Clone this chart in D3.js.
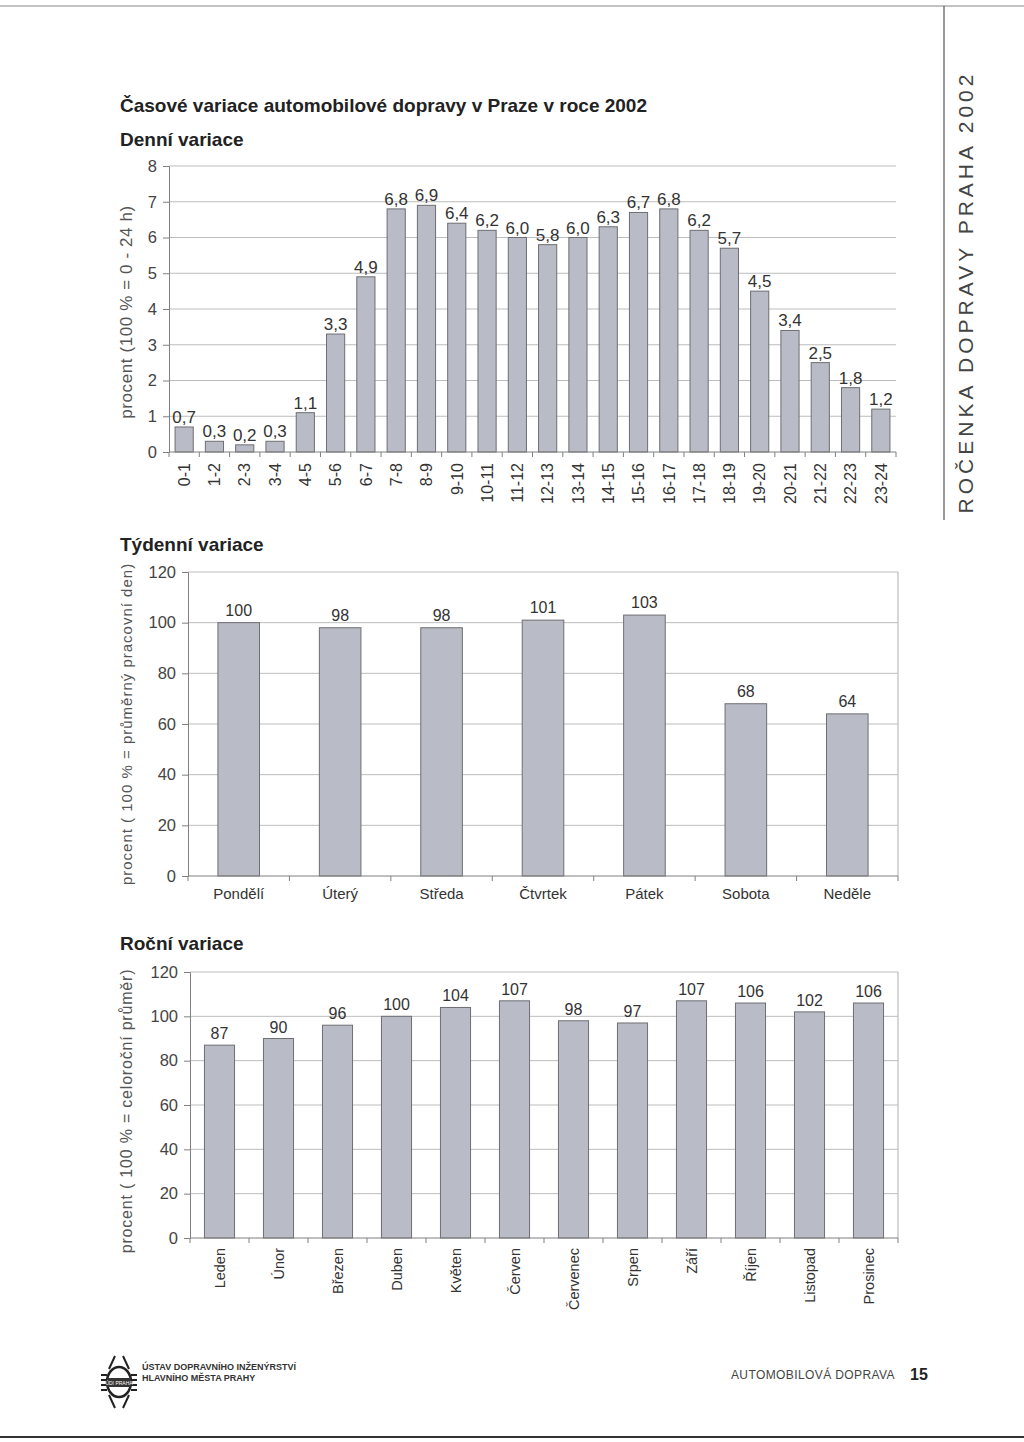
<!DOCTYPE html>
<html><head><meta charset="utf-8">
<script src="https://cdn.jsdelivr.net/npm/d3@7"></script>
<style>
body{margin:0;background:#fff;}
svg text{font-family:"Liberation Sans",Arial,sans-serif;}
</style></head>
<body>
<script>
// ---- data ----
const hourCategories = ["0-1","1-2","2-3","3-4","4-5","5-6","6-7","7-8","8-9","9-10","10-11","11-12","12-13","13-14","14-15","15-16","16-17","17-18","18-19","19-20","20-21","21-22","22-23","23-24"];
const hourValues = [0.7,0.3,0.2,0.3,1.1,3.3,4.9,6.8,6.9,6.4,6.2,6.0,5.8,6.0,6.3,6.7,6.8,6.2,5.7,4.5,3.4,2.5,1.8,1.2];
const hourTicks = [0,1,2,3,4,5,6,7,8];

const dayCategories = ["Pondělí","Úterý","Středa","Čtvrtek","Pátek","Sobota","Neděle"];
const dayValues = [100,98,98,101,103,68,64];
const dayTicks = [0,20,40,60,80,100,120];

const monthCategories = ["Leden","Únor","Březen","Duben","Květen","Červen","Červenec","Srpen","Září","Říjen","Listopad","Prosinec"];
const monthValues = [87,90,96,100,104,107,98,97,107,106,102,106];
const monthTicks = [0,20,40,60,80,100,120];

const W = 1024, H = 1442;
const svg = d3.select("body").append("svg").attr("width", W).attr("height", H);

const BAR_FILL = "#b9bcc7", BAR_STROKE = "#6e6e72", GRID = "#bdbdbd", AXIS = "#808080", TXT = "#333";
const NARROW = "'Liberation Sans Narrow','Liberation Sans',Arial,sans-serif";

// page frame
svg.append("line").attr("x1",0).attr("x2",1024).attr("y1",6).attr("y2",6).attr("stroke","#888").attr("stroke-width",1.2);
svg.append("line").attr("x1",944).attr("x2",944).attr("y1",6).attr("y2",520).attr("stroke","#555").attr("stroke-width",1.2);
svg.append("line").attr("x1",0).attr("x2",1024).attr("y1",1437).attr("y2",1437).attr("stroke","#333").attr("stroke-width",2);
svg.append("text").attr("transform","translate(973,292) rotate(-90)").attr("text-anchor","middle")
  .attr("font-size",21).attr("fill","#444").attr("letter-spacing",4).text("ROČENKA DOPRAVY PRAHA 2002");

// titles
svg.append("text").attr("x",120).attr("y",112).attr("font-size",19).attr("font-weight","bold").attr("fill","#222").text("Časové variace automobilové dopravy v Praze v roce 2002");
svg.append("text").attr("x",120).attr("y",146).attr("font-size",19).attr("font-weight","bold").attr("fill","#222").text("Denní variace");
svg.append("text").attr("x",120).attr("y",551).attr("font-size",19).attr("font-weight","bold").attr("fill","#222").text("Týdenní variace");
svg.append("text").attr("x",120).attr("y",950).attr("font-size",19).attr("font-weight","bold").attr("fill","#222").text("Roční variace");

function barChart(o){
  const g = svg.append("g");
  const n = o.cats.length;
  const x = d3.scaleBand().domain(o.cats).range([o.x0,o.x1]).paddingInner(o.pad).paddingOuter(o.pad/2);
  const y = d3.scaleLinear().domain([0,o.ymax]).range([o.y0,o.y1]);
  // grid
  g.selectAll(".grid").data(o.ticks.filter(t=>t>0)).join("line")
    .attr("x1",o.x0).attr("x2",o.x1).attr("y1",d=>y(d)).attr("y2",d=>y(d))
    .attr("stroke",GRID).attr("stroke-width",1);
  if(o.rightBorder){
    g.append("line").attr("x1",o.x1).attr("x2",o.x1).attr("y1",y(o.ymax)).attr("y2",y(0)).attr("stroke",GRID).attr("stroke-width",1.2);
  }
  // bars
  g.selectAll(".bar").data(o.vals).join("rect")
    .attr("x",(d,i)=>x(o.cats[i])).attr("width",x.bandwidth())
    .attr("y",d=>y(d)).attr("height",d=>y(0)-y(d))
    .attr("fill",BAR_FILL).attr("stroke",BAR_STROKE).attr("stroke-width",1);
  // value labels
  g.selectAll(".vl").data(o.vals).join("text")
    .attr("x",(d,i)=>x(o.cats[i])+x.bandwidth()/2).attr("y",d=>y(d)-o.vlOff)
    .attr("text-anchor","middle").style("font-size",o.vlSize+"px").attr("fill",TXT)
    .style("font-family",o.font).text(d=>o.fmt(d));
  // y axis
  const ya = d3.axisLeft(y).tickValues(o.ticks).tickSize(6).tickFormat(d=>d);
  const yg = g.append("g").attr("transform",`translate(${o.x0},0)`).call(ya);
  yg.select(".domain").attr("stroke",AXIS);
  yg.selectAll(".tick line").attr("stroke",AXIS);
  yg.selectAll(".tick text").style("font-size",o.tickSize+"px").attr("fill","#444").attr("x",-12).style("font-family",o.font);
  // x axis line + boundary ticks
  g.append("line").attr("x1",o.x0).attr("x2",o.x1).attr("y1",y(0)).attr("y2",y(0)).attr("stroke",AXIS).attr("stroke-width",1.2);
  const step = x.step();
  g.selectAll(".xt").data(d3.range(n+1)).join("line")
    .attr("x1",i=>o.x0+i*step).attr("x2",i=>o.x0+i*step).attr("y1",y(0)).attr("y2",y(0)+5)
    .attr("stroke",AXIS);
  // x labels
  const xl = g.selectAll(".xl").data(o.cats).join("text").attr("fill","#333").style("font-size",o.catSize+"px").style("font-family",o.catFont||o.font);
  if(o.rotate){
    xl.attr("transform",d=>`translate(${x(d)+x.bandwidth()/2+o.catSize*0.36},${y(0)+o.catGap}) rotate(-90)`)
      .attr("text-anchor","end").text(d=>d);
  } else {
    xl.attr("x",d=>x(d)+x.bandwidth()/2).attr("y",y(0)+o.catGap).attr("text-anchor","middle").text(d=>d);
  }
  // y title
  g.append("text").attr("transform",`translate(${o.ytX},${(y(0)+y(o.ymax))/2 + (o.ytDy||0)}) rotate(-90)`)
    .attr("text-anchor","middle").style("font-size",o.ytSize+"px").attr("fill","#555")
    .attr("letter-spacing",o.ytSpacing||0).text(o.ytitle);
}

barChart({cats:hourCategories, vals:hourValues, ticks:hourTicks, ymax:8,
  x0:169, x1:896, y0:452, y1:166, pad:0.4, rightBorder:false,
  vlOff:4, vlSize:17, tickSize:16.5, catSize:16, catGap:11, rotate:true,
  font:"'Liberation Sans',Arial,sans-serif",
  fmt:d=>d.toFixed(1).replace(".",","),
  ytX:132, ytSize:17, ytSpacing:0.6, ytDy:3, ytitle:"procent  (100 % = 0 - 24 h)"});

barChart({cats:dayCategories, vals:dayValues, ticks:dayTicks, ymax:120,
  x0:188, x1:898, y0:876, y1:572, pad:0.59, rightBorder:true,
  vlOff:7, vlSize:16, tickSize:16.5, catSize:15, catGap:23, rotate:false,
  font:NARROW, catFont:"'Liberation Sans',Arial,sans-serif",
  fmt:d=>d,
  ytX:132, ytSize:15, ytSpacing:1, ytitle:"procent ( 100 % = průměrný pracovní den)"});

barChart({cats:monthCategories, vals:monthValues, ticks:monthTicks, ymax:120,
  x0:190, x1:898, y0:1238, y1:972, pad:0.49, rightBorder:true,
  vlOff:6, vlSize:16, tickSize:16.5, catSize:14.5, catGap:10, rotate:true,
  font:NARROW, catFont:"'Liberation Sans',Arial,sans-serif",
  fmt:d=>d,
  ytX:132, ytSize:16, ytSpacing:0.8, ytDy:6, ytitle:"procent  ( 100 % = celoroční průměr)"});

// footer logo
const lg = svg.append("g").attr("transform","translate(119,1382)").attr("stroke","#222").attr("fill","none").attr("stroke-width",2);
lg.append("path").attr("d","M-4,-26 L-10,-13 M4,-26 L10,-13 M-4,26 L-10,13 M4,26 L10,13");
lg.append("ellipse").attr("rx",12).attr("ry",15).attr("stroke-width",2.5);
lg.append("path").attr("d","M-18,-7 H-12 M-18,-2 H-12 M-18,3 H-12 M-18,8 H-12 M12,-7 H18 M12,-2 H18 M12,3 H18 M12,8 H18");
lg.append("rect").attr("x",-12).attr("y",-4).attr("width",24).attr("height",9).attr("fill","#333").attr("stroke","none");
lg.append("text").attr("x",0).attr("y",3).attr("text-anchor","middle").attr("font-size",5).attr("fill","#fff").attr("stroke","none").text("ÚDI PRAHA");
svg.append("text").attr("x",142).attr("y",1370).attr("font-size",9).attr("font-weight","bold").attr("fill","#333").text("ÚSTAV DOPRAVNÍHO INŽENÝRSTVÍ");
svg.append("text").attr("x",142).attr("y",1381).attr("font-size",9).attr("font-weight","bold").attr("fill","#333").text("HLAVNÍHO MĚSTA PRAHY");
svg.append("text").attr("x",895).attr("y",1379).attr("text-anchor","end").attr("font-size",12).attr("fill","#444").attr("letter-spacing",0.4).text("AUTOMOBILOVÁ DOPRAVA");
svg.append("text").attr("x",910).attr("y",1380).attr("font-size",16).attr("font-weight","bold").attr("fill","#222").text("15");
</script>
</body></html>
